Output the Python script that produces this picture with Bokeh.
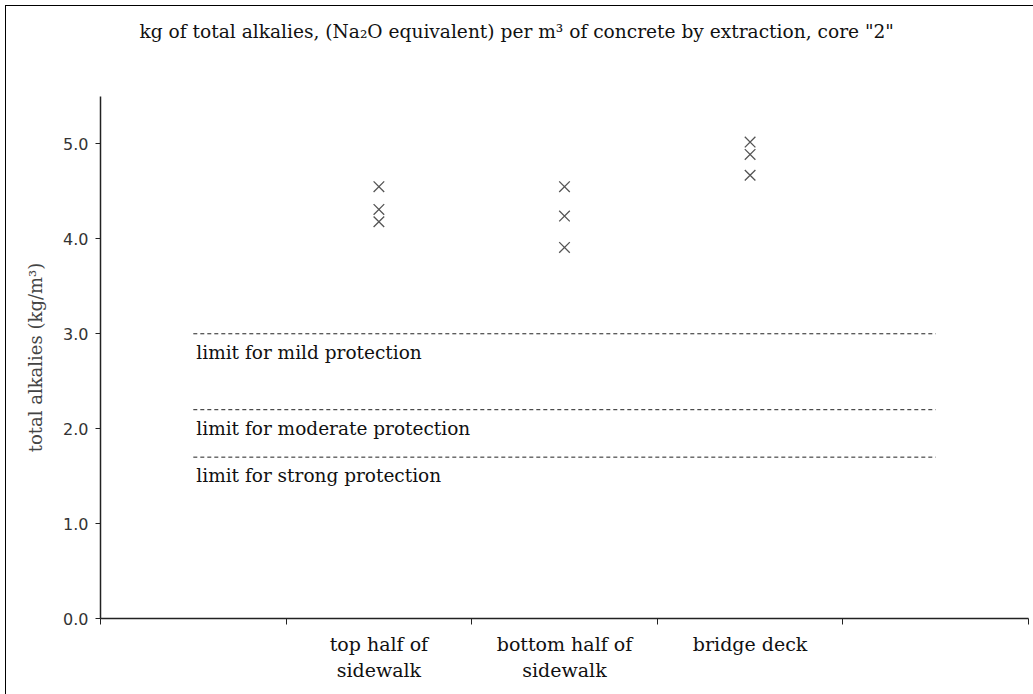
from bokeh.plotting import figure
from bokeh.models import FixedTicker, Range1d, ColumnDataSource, Title
from bokeh.core.properties import value
from bokeh.embed import file_html
from bokeh.resources import INLINE

# ---- data ----
slots = ["", "top half of\nsidewalk", "bottom half of\nsidewalk", "bridge deck", ""]
groups = ["top half of\nsidewalk", "bottom half of\nsidewalk", "bridge deck"]
top_half = [4.55, 4.31, 4.18]
bottom_half = [4.55, 4.24, 3.91]
bridge_deck = [5.02, 4.89, 4.67]
limits = [3.0, 2.2, 1.7]
limit_labels = ["limit for mild protection", "limit for moderate protection", "limit for strong protection"]
y_ticks = [0.0, 1.0, 2.0, 3.0, 4.0, 5.0]
title_text = "kg of total alkalies, (Na\u2082O equivalent) per m\u00b3 of concrete by extraction, core \"2\""

SERIF = "DejaVu Serif"
SANS = "DejaVu Sans"

centers = {g: slots.index(g) + 0.5 for g in groups}
xs, ys = [], []
for g, vals in zip(groups, [top_half, bottom_half, bridge_deck]):
    xs += [centers[g]] * len(vals)
    ys += vals

p = figure(width=1028, height=689, output_backend="svg", toolbar_location=None,
           title_location=None,
           x_range=Range1d(0, len(slots)), y_range=Range1d(0, 5.5),
           min_border_left=94, min_border_right=6, min_border_top=90, min_border_bottom=77)
p.margin = (5, 0, 0, 5)
p.styles = {"border-left": "1px solid #000", "border-top": "1px solid #000"}
p.outline_line_color = None
p.grid.visible = False

# spacer between title and frame, then the title itself
p.add_layout(Title(text=" ", text_font_size="48px", standoff=0), "above")
p.add_layout(Title(text=title_text, align="left", offset=39, standoff=0,
                   text_font=SERIF, text_font_size="18.6px", text_font_style="normal",
                   text_color="#111"), "above")

# x axis
xa = p.xaxis[0]
xa.ticker = FixedTicker(ticks=[centers[g] for g in groups], minor_ticks=list(range(0, len(slots) + 1)))
xa.major_label_overrides = {centers[g]: g for g in groups}
xa.major_tick_line_color = None
xa.minor_tick_in = 0
xa.minor_tick_out = 6
xa.minor_tick_line_color = "#222"
xa.axis_line_color = "#222"
xa.axis_line_width = 1.5
xa.major_label_text_font = SERIF
xa.major_label_text_font_size = "19px"
xa.major_label_text_color = "#111"
xa.major_label_standoff = 8

# y axis
ya = p.yaxis[0]
ya.ticker = FixedTicker(ticks=y_ticks, minor_ticks=[])
ya.major_label_overrides = {t: f"{t:.1f}" for t in y_ticks}
ya.major_tick_in = 0
ya.major_tick_out = 5
ya.major_tick_line_color = "#222"
ya.axis_line_color = "#222"
ya.axis_line_width = 1.5
ya.major_label_text_font = SANS
ya.major_label_text_font_size = "16px"
ya.major_label_text_color = "#333"
ya.major_label_standoff = 7
ya.axis_label = "total alkalies (kg/m\u00b3)"
ya.axis_label_text_font = SERIF
ya.axis_label_text_font_style = "normal"
ya.axis_label_text_font_size = "18px"
ya.axis_label_standoff = 14

# limit lines
lsrc = ColumnDataSource(dict(x0=[0.5] * len(limits), x1=[len(slots) - 0.5] * len(limits),
                             y=limits, label=limit_labels))
p.segment(x0="x0", x1="x1", y0="y", y1="y", source=lsrc, line_color="#222",
          line_width=1, line_dash="4 3")
p.text(x="x0", y="y", text="label", source=lsrc, text_font=value(SERIF),
       text_font_size="18.5px", text_baseline="top", text_align="left",
       x_offset=3, y_offset=8, text_color="#111")

# points
p.scatter(xs, ys, marker="x", size=15, line_color="#555", line_width=1.3)

open("out.html", "w").write(file_html(p, INLINE))
